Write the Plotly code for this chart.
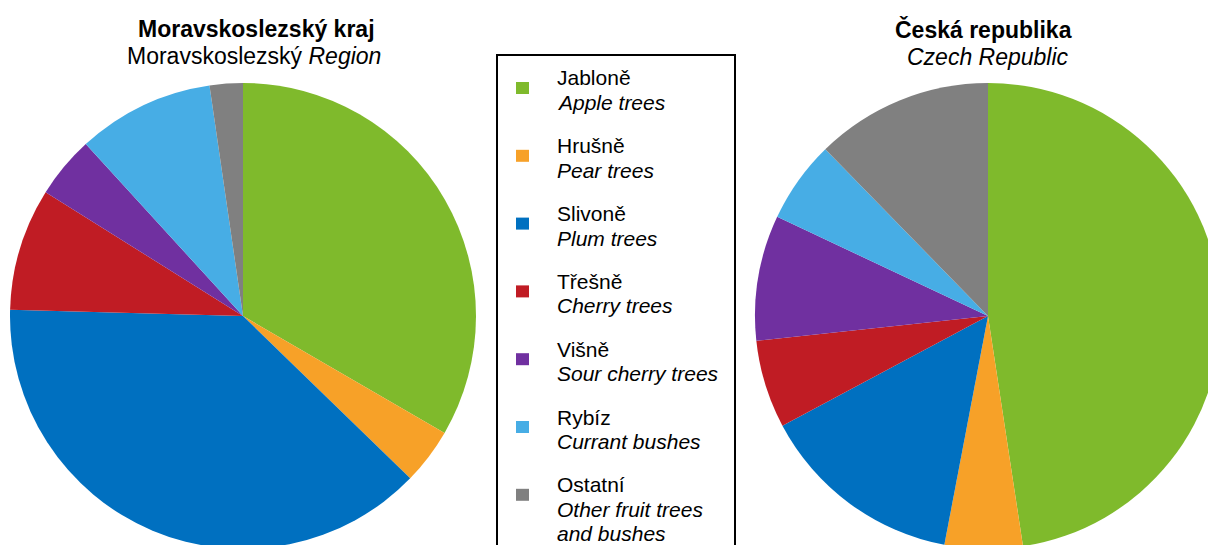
import plotly.graph_objects as go

labels_cz = ["Jabloně", "Hrušně", "Slivoně", "Třešně", "Višně", "Rybíz", "Ostatní"]
labels_en = ["Apple trees", "Pear trees", "Plum trees", "Cherry trees",
             "Sour cherry trees", "Currant bushes", "Other fruit trees<br>and bushes"]
msk_share = [33.4, 3.9, 38.2, 8.5, 4.3, 9.5, 2.3]
cr_share = [47.6, 5.4, 14.2, 6.1, 8.7, 5.7, 12.3]

colors = ["#7fba2c", "#f7a128", "#0070c0", "#c01c24", "#7030a0", "#47ade5", "#808080"]

# figure is a bit larger than the window so the pies get cut at the edges
W, H = 1230, 580
R = 233


def px(x):
    return x / W


def py(y):
    return 1 - y / H


def pie_domain(cx, cy):
    return {'x': [px(cx - R), px(cx + R)], 'y': [py(cy + R), py(cy - R)]}


fig = go.Figure()
fig.add_trace(go.Pie(labels=labels_cz, values=msk_share, sort=False,
                     direction='clockwise', rotation=0,
                     marker={'colors': colors, 'line': {'width': 0}},
                     textinfo='none', hoverinfo='label+percent',
                     domain=pie_domain(243, 316), showlegend=False))
fig.add_trace(go.Pie(labels=labels_cz, values=cr_share, sort=False,
                     direction='clockwise', rotation=0,
                     marker={'colors': colors, 'line': {'width': 0}},
                     textinfo='none', hoverinfo='label+percent',
                     domain=pie_domain(988, 316), showlegend=False))

font = "Liberation Sans, Arial, sans-serif"
ann = []


def text(x, y, s, size=21, anchor='left'):
    ann.append(dict(x=px(x), y=py(y), xref='paper', yref='paper', text=s,
                    showarrow=False, xanchor=anchor, yanchor='middle',
                    font={'family': font, 'size': size, 'color': 'black'}))


# titles
text(256, 29, "<b>Moravskoslezský kraj</b>", 23, 'center')
text(254, 56, "Moravskoslezský <i>Region</i>", 23, 'center')
text(983, 30, "<b>Česká republika</b>", 23, 'center')
text(988, 57, "<i>Czech Republic</i>", 23, 'center')

# legend box + entries
shapes = [dict(type='rect', xref='paper', yref='paper',
               x0=px(497), x1=px(735), y0=py(620), y1=py(55),
               line={'color': 'black', 'width': 2}, fillcolor='rgba(0,0,0,0)')]
for i, (cz, en) in enumerate(zip(labels_cz, labels_en)):
    top = 88 + 67.8 * i
    shapes.append(dict(type='rect', xref='paper', yref='paper',
                       x0=px(516), x1=px(529), y0=py(top + 6), y1=py(top - 6),
                       line={'width': 0}, fillcolor=colors[i]))
    text(555, top - 10, cz)
    for j, line in enumerate(en.split("<br>")):
        text(555, top + 14.5 + 24.5 * j, "<i>" + line + "</i>")

fig.update_layout(width=W, height=H, margin=dict(l=0, r=0, t=0, b=0),
                  paper_bgcolor='white', plot_bgcolor='white',
                  annotations=ann, shapes=shapes)

fig.write_html("out.html", config={'displayModeBar': False},
               post_script="document.body.style.margin='0';document.body.style.overflow='hidden';")
